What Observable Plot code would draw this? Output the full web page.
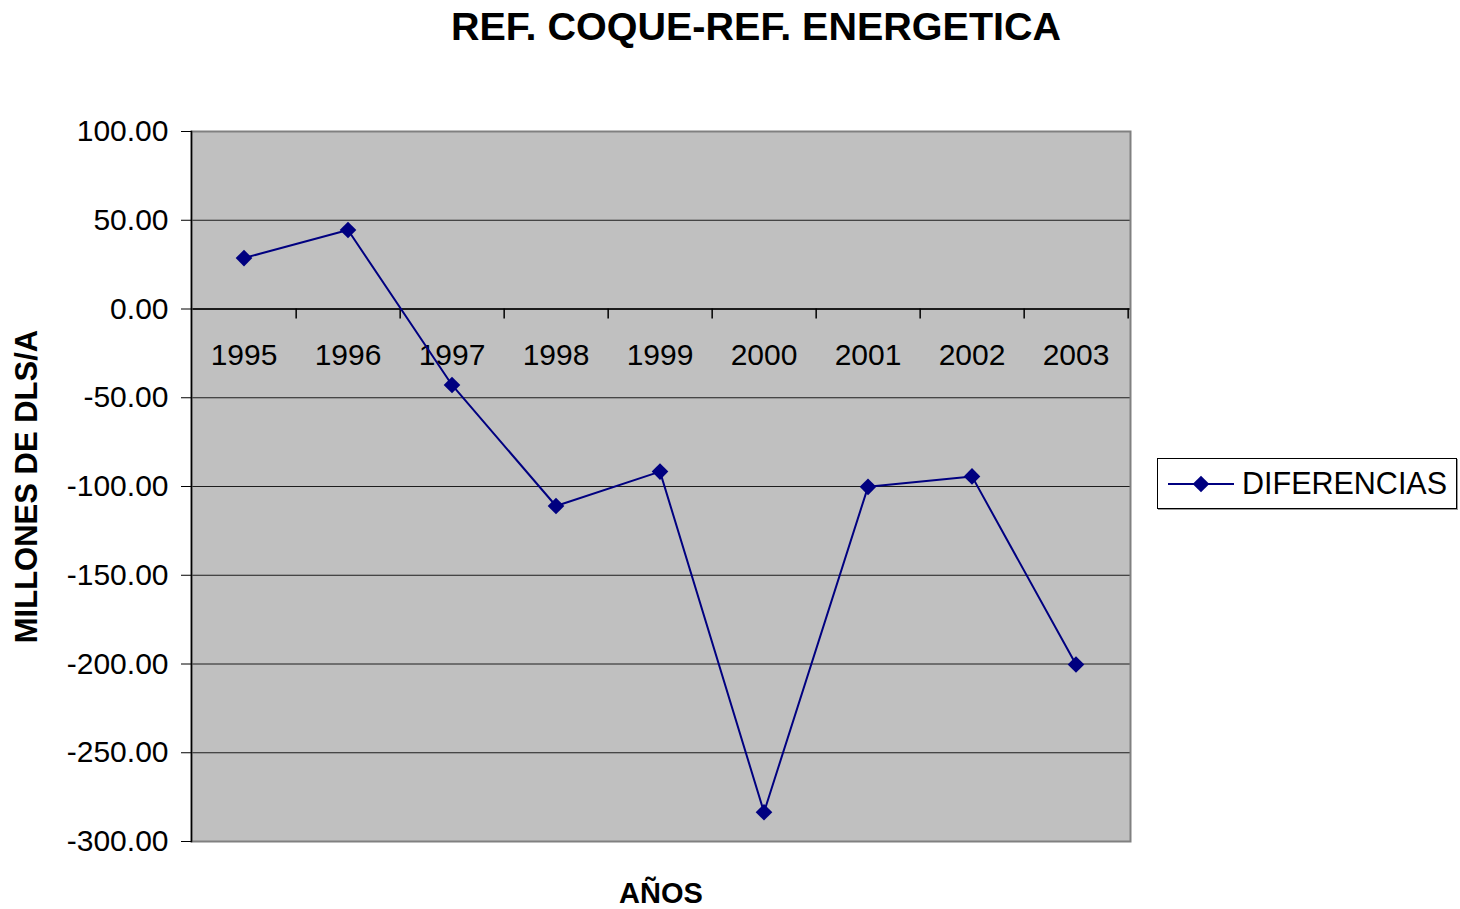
<!DOCTYPE html>
<html>
<head>
<meta charset="utf-8">
<script src="https://cdn.jsdelivr.net/npm/d3@7"></script>
<script src="https://cdn.jsdelivr.net/npm/@observablehq/plot@0.6"></script>
<style>
  html, body { margin: 0; padding: 0; background: #fff; }
  body { width: 1460px; height: 909px; position: relative; overflow: hidden; font-family: "Liberation Sans", Arial, sans-serif; }
  #title { height: 60px; box-sizing: border-box; padding-top: 4px; padding-left: 52px; text-align: center; font-weight: bold; font-size: 39.5px; line-height: 44px; color: #000; }
  #legend { position: absolute; left: 1157px; top: 458px; width: 298px; height: 49px; border: 1px solid #000; box-shadow: 1px 1px 0 #999; background: #fff; display: flex; align-items: center; }
  #legend span { font-size: 30.5px; color: #000; margin-left: 8px; }
</style>
</head>
<body>
<div id="title">REF. COQUE-REF. ENERGETICA</div>
<div id="chart"></div>
<div id="legend"></div>
<script>
const years = ["1995", "1996", "1997", "1998", "1999", "2000", "2001", "2002", "2003"];
const diferencias = [28.7, 44.5, -42.8, -111.0, -91.6, -283.5, -100.2, -94.3, -200.3];
const yTicks = [100, 50, 0, -50, -100, -150, -200, -250, -300];
const seriesName = "DIFERENCIAS";
const yLabel = "MILLONES DE DLS/A";
const xLabel = "AÑOS";
const lineColor = "#000080";

const data = years.map((year, i) => ({year, value: diferencias[i]}));

const W = 1460, H = 849, ML = 191, MR = 330, MT = 71, MB = 68;
const bw = (W - ML - MR) / years.length;

const chart = Plot.plot({
  width: W, height: H,
  marginLeft: ML, marginRight: MR, marginTop: MT, marginBottom: MB,
  style: {fontFamily: "'Liberation Sans', Arial, sans-serif", background: "#fff", color: "#000"},
  x: {type: "band", domain: years, padding: 0, axis: null},
  y: {domain: [-300, 100], axis: null},
  marks: [
    Plot.frame({fill: "#c0c0c0"}),
    Plot.gridY(yTicks, {stroke: "#000", strokeOpacity: 0.85, strokeWidth: 1}),
    Plot.ruleY([0], {stroke: "#000", strokeWidth: 1.5}),
    Plot.frame({stroke: "#808080", strokeWidth: 2}),
    Plot.frame({anchor: "left", stroke: "#000", strokeWidth: 1.5}),
    Plot.axisY(yTicks, {tickFormat: d => d.toFixed(2), tickSize: 10, tickPadding: 13, fontSize: 30, label: null, stroke: "#000"}),
    Plot.ruleX(years, {x: d => d, y1: 0, y2: 0, dx: bw / 2 - 1.5, insetBottom: -10, stroke: "#000", strokeWidth: 1.5}),
    Plot.text(years, {x: d => d, y: 0, dy: 46, dx: -1.5, fontSize: 30, fill: "#000"}),
    Plot.line(data, {x: "year", y: "value", stroke: lineColor, strokeWidth: 2, dx: -1.5}),
    Plot.dot(data, {x: "year", y: "value", symbol: "diamond2", fill: lineColor, stroke: null, r: 7.5, dx: -1.5}),
    Plot.text([yLabel], {frameAnchor: "left", textAnchor: "middle", rotate: -90, dx: -164, fontSize: 31, fontWeight: "bold", fill: "#000"}),
    Plot.text([xLabel], {frameAnchor: "bottom", lineAnchor: "middle", dy: 52, fontSize: 29, fontWeight: "bold", fill: "#000"})
  ]
});
document.getElementById("chart").appendChild(chart);

// legend
const leg = document.getElementById("legend");
const sw = d3.create("svg").attr("width", 76).attr("height", 30);
sw.append("line").attr("x1", 10).attr("x2", 76).attr("y1", 15).attr("y2", 15).attr("stroke", lineColor).attr("stroke-width", 2);
sw.append("path").attr("d", d3.symbol(d3.symbolDiamond2, Math.PI * 7.5 * 7.5)()).attr("transform", "translate(43,15)").attr("fill", lineColor);
leg.appendChild(sw.node());
const t = document.createElement("span");
t.textContent = seriesName;
leg.appendChild(t);
</script>
</body>
</html>
